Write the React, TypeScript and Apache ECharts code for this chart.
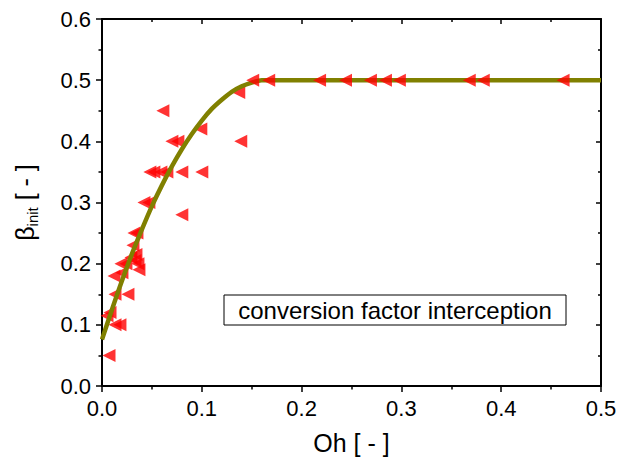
import React, { useEffect, useRef } from "react";
import * as echarts from "echarts";

// Measured data (Oh, beta_init) – rising branch
const risingOh = [0.007, 0.005, 0.008, 0.013, 0.018, 0.013, 0.026, 0.012, 0.02, 0.019, 0.024, 0.029, 0.033, 0.036, 0.037, 0.034, 0.031, 0.032, 0.035, 0.042, 0.047, 0.048, 0.052, 0.059, 0.065, 0.08, 0.1, 0.08, 0.061, 0.07, 0.076, 0.099, 0.139, 0.137];
const risingBeta = [0.05, 0.115, 0.12, 0.1, 0.1, 0.15, 0.15, 0.18, 0.185, 0.2, 0.2, 0.21, 0.205, 0.2, 0.19, 0.215, 0.23, 0.25, 0.25, 0.3, 0.3, 0.35, 0.35, 0.35, 0.35, 0.35, 0.35, 0.28, 0.45, 0.4, 0.4, 0.42, 0.4, 0.48];

// Measured data – plateau branch
const plateauOh = [0.151, 0.167, 0.218, 0.244, 0.269, 0.284, 0.298, 0.368, 0.382, 0.462];
const plateauBeta = [0.5, 0.5, 0.5, 0.5, 0.5, 0.5, 0.5, 0.5, 0.5, 0.5];

// Fitted curve
const curveOh = [0, 0.01, 0.02, 0.03, 0.04, 0.05, 0.06, 0.07, 0.08, 0.09, 0.1, 0.11, 0.12, 0.13, 0.14, 0.15, 0.16, 0.17, 0.2, 0.3, 0.4, 0.5];
const curveBeta = [0.076, 0.125, 0.172, 0.216, 0.256, 0.294, 0.328, 0.359, 0.387, 0.412, 0.434, 0.453, 0.468, 0.481, 0.49, 0.496, 0.5, 0.5, 0.5, 0.5, 0.5, 0.5];

const xTicks = ["0.0", "0.1", "0.2", "0.3", "0.4", "0.5"];
const yTicks = ["0.0", "0.1", "0.2", "0.3", "0.4", "0.5", "0.6"];
const xRange = [0, 0.5];
const yRange = [0, 0.6];

const legendText = "conversion factor interception";

const FONT = "'Liberation Sans', Arial, sans-serif";

export default function App() {
  const ref = useRef<HTMLDivElement>(null);
  useEffect(() => {
    if (!ref.current) return;
    const chart = echarts.init(ref.current, null, { renderer: "svg" });
    const pair = (xs: number[], ys: number[]) => xs.map((x, i) => [x, ys[i]]);
    const line = () => ({ show: true, onZero: false, lineStyle: { color: "#000", width: 2 } });
    const tick = (inside: boolean, length: number) => ({
      show: true,
      inside,
      length,
      lineStyle: { color: "#000", width: 1.5 },
    });
    const minor = (length: number) => ({
      show: true,
      splitNumber: 2,
      length,
      lineStyle: { color: "#000", width: 1.5 },
    });
    chart.setOption({
      animation: false,
      backgroundColor: "#fff",
      grid: {
        left: 102,
        right: 18,
        top: 19,
        bottom: 73,
        containLabel: false,
        outerBoundsMode: "none",
      },
      xAxis: [
        {
          type: "value",
          position: "bottom",
          min: xRange[0],
          max: xRange[1],
          interval: 0.1,
          axisLine: line(),
          splitLine: { show: false },
          axisTick: tick(false, 6),
          minorTick: minor(3.5),
          axisLabel: {
            color: "#000",
            fontSize: 22,
            fontFamily: FONT,
            margin: 11,
            formatter: (v: number) => xTicks[Math.round(v * 10)] ?? "",
          },
          name: "Oh [ - ]",
          nameLocation: "middle",
          nameGap: 44,
          nameTextStyle: { color: "#000", fontSize: 25, fontFamily: FONT },
        },
        {
          type: "value",
          position: "top",
          min: xRange[0],
          max: xRange[1],
          interval: 0.1,
          axisLine: line(),
          splitLine: { show: false },
          axisTick: tick(true, 5),
          minorTick: minor(3),
          axisLabel: { show: false },
        },
      ],
      yAxis: [
        {
          type: "value",
          position: "left",
          min: yRange[0],
          max: yRange[1],
          interval: 0.1,
          axisLine: line(),
          splitLine: { show: false },
          axisTick: tick(false, 6),
          minorTick: minor(3.5),
          axisLabel: {
            color: "#000",
            fontSize: 22,
            fontFamily: FONT,
            margin: 11,
            formatter: (v: number) => yTicks[Math.round(v * 10)] ?? "",
          },
          name: "{b|β}{s|init}{b| [ - ]}",
          nameLocation: "middle",
          nameGap: 62,
          nameTextStyle: {
            color: "#000",
            fontFamily: FONT,
            rich: {
              b: { fontSize: 25, fontFamily: FONT, color: "#000", lineHeight: 30 },
              s: { fontSize: 15, fontFamily: FONT, color: "#000", lineHeight: 30, verticalAlign: "bottom", padding: [14, 0, 0, 0] },
            },
          },
        },
        {
          type: "value",
          position: "right",
          min: yRange[0],
          max: yRange[1],
          interval: 0.1,
          axisLine: line(),
          splitLine: { show: false },
          axisTick: tick(true, 5),
          minorTick: minor(3),
          axisLabel: { show: false },
        },
      ],
      series: [
        {
          type: "scatter",
          xAxisIndex: 0,
          yAxisIndex: 0,
          data: pair(risingOh, risingBeta),
          symbol: "triangle",
          symbolRotate: 90,
          symbolSize: 13,
          itemStyle: { color: "#ff0000" },
          z: 2,
        },
        {
          type: "line",
          xAxisIndex: 0,
          yAxisIndex: 0,
          data: pair(curveOh, curveBeta),
          smooth: 0.3,
          showSymbol: false,
          lineStyle: { color: "#808000", width: 4.5 },
          z: 3,
        },
        {
          type: "scatter",
          xAxisIndex: 0,
          yAxisIndex: 0,
          data: pair(plateauOh, plateauBeta),
          symbol: "triangle",
          symbolRotate: 90,
          symbolSize: 13,
          itemStyle: { color: "#ff0000" },
          z: 4,
        },
      ],
      graphic: [
        {
          id: "legendBox",
          type: "rect",
          shape: { x: 224, y: 295, width: 342, height: 30 },
          style: { fill: "#fff", stroke: "#000", lineWidth: 1 },
          z: 10,
        },
        {
          id: "legendText",
          type: "text",
          x: 395,
          y: 310,
          style: {
            text: legendText,
            font: `24px ${FONT}`,
            fill: "#000",
            align: "center",
            verticalAlign: "middle",
            textAlign: "center",
            textVerticalAlign: "middle",
          },
          z: 11,
        },
      ],
    });
    return () => chart.dispose();
  }, []);
  return (
    <div
      ref={ref}
      style={{ position: "fixed", left: 0, top: 0, width: 619, height: 459 }}
    />
  );
}
